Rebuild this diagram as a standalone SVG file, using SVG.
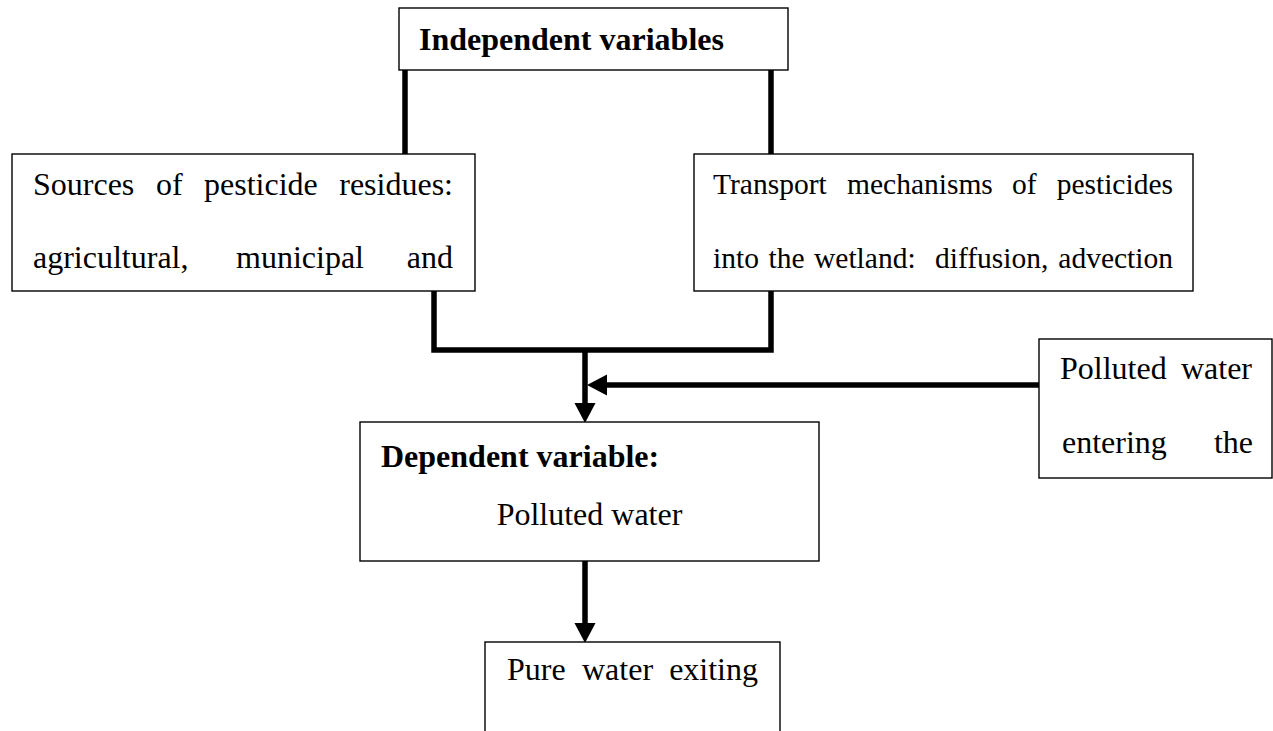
<svg xmlns="http://www.w3.org/2000/svg" width="1273" height="731" viewBox="0 0 1273 731">
<style>
.box{fill:#fff;stroke:#000;stroke-width:1.4}
.t{font-family:"Liberation Serif","Times New Roman",serif;font-size:32px;fill:#000}
.s{font-size:29.5px}
.b{font-weight:bold}
.c{fill:none;stroke:#000;stroke-width:5.5;stroke-linejoin:miter;stroke-linecap:butt}
</style>
<defs>
<marker id="ah" markerUnits="userSpaceOnUse" markerWidth="20" markerHeight="22" refX="0" refY="10" orient="auto" viewBox="0 0 19 20">
<path d="M0,0 L19,10 L0,20 Z" fill="#000"/>
</marker>
</defs>
<g id="connectors">
<path class="c" d="M405,70 V154"/>
<path class="c" d="M771,70 V154"/>
<path class="c" d="M434,291 V350 H771 V291"/>
<path class="c" d="M585,350 V403" marker-end="url(#ah)"/>
<path class="c" d="M1039,385 H607" marker-end="url(#ah)"/>
<path class="c" d="M585,561 V623" marker-end="url(#ah)"/>
</g>
<g id="independent">
<rect class="box" x="399" y="8" width="389" height="62"/>
<text class="t b" x="419" y="50">Independent variables</text>
</g>
<g id="sources">
<rect class="box" x="12" y="154" width="463" height="137"/>
<text class="t" y="195"><tspan x="33">Sources</tspan><tspan x="156">of</tspan><tspan x="204">pesticide</tspan><tspan x="453" text-anchor="end">residues:</tspan></text>
<text class="t" y="268"><tspan x="33">agricultural,</tspan><tspan x="236">municipal</tspan><tspan x="453" text-anchor="end">and</tspan></text>
</g>
<g id="transport">
<rect class="box" x="694" y="154" width="499" height="137"/>
<text class="t s" y="194"><tspan x="713">Transport</tspan><tspan x="847">mechanisms</tspan><tspan x="1012">of</tspan><tspan x="1173" text-anchor="end">pesticides</tspan></text>
<text class="t s" y="268"><tspan x="713">into</tspan><tspan x="768.5">the</tspan><tspan x="814">wetland:</tspan><tspan x="935">diffusion,</tspan><tspan x="1173" text-anchor="end">advection</tspan></text>
</g>
<g id="entering">
<rect class="box" x="1039" y="339" width="233" height="139"/>
<text class="t" y="379"><tspan x="1060">Polluted</tspan><tspan x="1252" text-anchor="end">water</tspan></text>
<text class="t" y="453"><tspan x="1062">entering</tspan><tspan x="1253" text-anchor="end">the</tspan></text>
</g>
<g id="dependent">
<rect class="box" x="360" y="422" width="459" height="139"/>
<text class="t b" x="381" y="467">Dependent variable:</text>
<text class="t" x="589.5" y="525" text-anchor="middle">Polluted water</text>
</g>
<g id="pure">
<rect class="box" x="485" y="642" width="295" height="100"/>
<text class="t" y="680"><tspan x="507">Pure</tspan><tspan x="582">water</tspan><tspan x="758" text-anchor="end">exiting</tspan></text>
</g>
</svg>
